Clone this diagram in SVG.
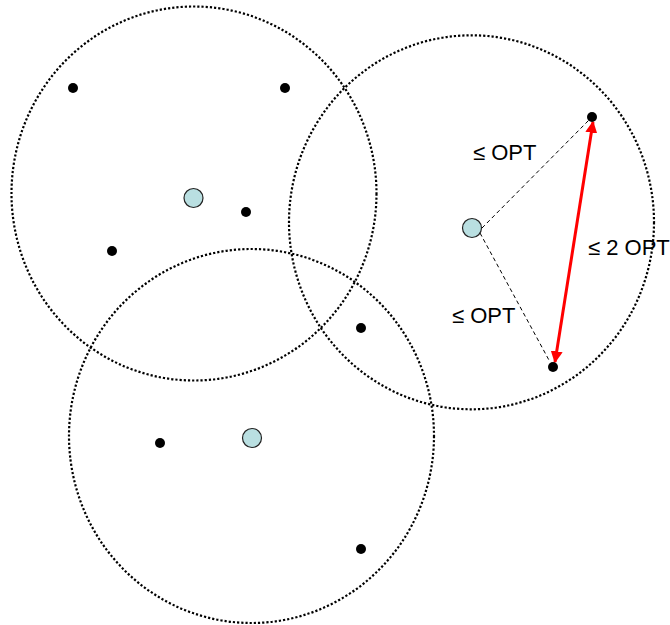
<svg xmlns="http://www.w3.org/2000/svg" width="670" height="625" viewBox="0 0 670 625">
<defs>
<style>
.region{fill:none;stroke:#000;stroke-width:2.2;stroke-dasharray:2.2 2}
.center{fill:#b9dfe1;stroke:#222;stroke-width:1.2}
.pt{fill:#000}
.dash{stroke:#000;stroke-width:1;stroke-dasharray:4 3;fill:none}
.lbl{font-family:"Liberation Sans",Arial,sans-serif;font-size:22px;fill:#000}
</style>
<marker id="ah" viewBox="0 0 10 10" refX="9" refY="5" markerWidth="4" markerHeight="4" orient="auto-start-reverse" markerUnits="strokeWidth">
<path d="M0,0 L10,5 L0,10 z" fill="#ff0000"/>
</marker>
</defs>
<g id="regions">
<ellipse id="region1" class="region" cx="194" cy="193.5" rx="182.5" ry="187"/>
<ellipse id="region2" class="region" cx="471.5" cy="222.3" rx="182.5" ry="187"/>
<ellipse id="region3" class="region" cx="251.5" cy="436" rx="182.5" ry="187"/>
</g>
<g id="connectors">
<line class="dash" x1="482" y1="228" x2="590" y2="119"/>
<line class="dash" x1="480" y1="233" x2="550" y2="362"/>
<line x1="593" y1="122" x2="555" y2="362" stroke="#ff0000" stroke-width="3" marker-start="url(#ah)" marker-end="url(#ah)"/>
</g>
<g id="centers">
<circle id="c1" class="center" cx="193.5" cy="198" r="9.5"/>
<circle id="c2" class="center" cx="472" cy="228" r="9.5"/>
<circle id="c3" class="center" cx="252" cy="438" r="9.5"/>
</g>
<g id="points">
<circle class="pt" cx="73" cy="88" r="5"/>
<circle class="pt" cx="285" cy="88" r="5"/>
<circle class="pt" cx="246" cy="212" r="5"/>
<circle class="pt" cx="112" cy="251" r="5"/>
<circle class="pt" cx="361" cy="328" r="5"/>
<circle class="pt" cx="160" cy="443" r="5"/>
<circle class="pt" cx="361" cy="549" r="5"/>
<circle class="pt" cx="592" cy="117" r="5"/>
<circle class="pt" cx="553" cy="367" r="5"/>
</g>
<g id="labels">
<text class="lbl" x="473" y="160">≤ OPT</text>
<text class="lbl" x="588" y="255">≤ 2 OPT</text>
<text class="lbl" x="452" y="323">≤ OPT</text>
</g>
</svg>
